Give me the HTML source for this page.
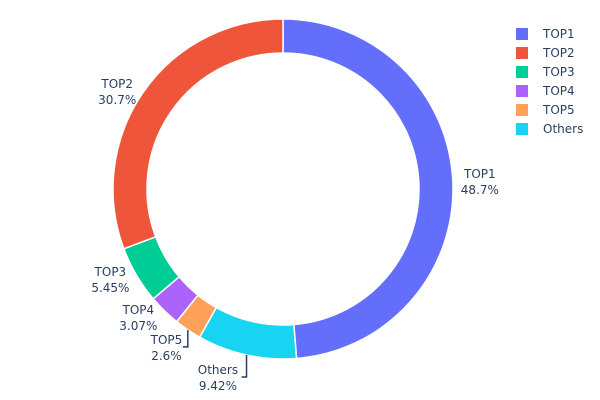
<!DOCTYPE html>
<html><head><meta charset="utf-8"><style>
body{margin:0;background:#fff}
svg{display:block;font-family:"DejaVu Sans","Liberation Sans",sans-serif}
</style></head><body>
<svg id="chart" width="600" height="400">
<g id="slices"></g>
<g id="labels"></g>
<g id="legend"></g>
</svg>
<script>
const labels = ["TOP1","TOP2","TOP3","TOP4","TOP5","Others"];
const values = [48.7,30.7,5.45,3.07,2.6,9.42];
const colors = ["#636efa","#EF553B","#00cc96","#ab63fa","#FFA15A","#19d3f3"];
const drawOrder = [0,5,4,3,2,1];
const cx=283, cy=189, R=170, r=136;
const NS="http://www.w3.org/2000/svg";
const total=values.reduce((a,b)=>a+b,0);
function pt(a,rad){const t=a*Math.PI/180;return [cx+rad*Math.sin(t), cy-rad*Math.cos(t)];}
const sg=document.getElementById('slices'), lg=document.getElementById('labels'), leg=document.getElementById('legend');
let ang=0;
drawOrder.forEach(i=>{
  const sweep=values[i]/total*360, a0=ang, a1=ang+sweep; ang=a1;
  const large=sweep>180?1:0;
  const [x0,y0]=pt(a0,R),[x1,y1]=pt(a1,R),[x2,y2]=pt(a1,r),[x3,y3]=pt(a0,r);
  const p=document.createElementNS(NS,'path');
  p.setAttribute('d',`M${x0},${y0}A${R},${R} 0 ${large} 1 ${x1},${y1}L${x2},${y2}A${r},${r} 0 ${large} 0 ${x3},${y3}Z`);
  p.setAttribute('fill',colors[i]);p.setAttribute('stroke','#fff');p.setAttribute('stroke-width','1.5');
  
  
  sg.appendChild(p);
  const mid=(a0+a1)/2; const [ox,oy]=pt(mid,R);
  const txt=labels[i];
  const pctStr=values[i]+'%';
  const hw=Math.max(txt.length,pctStr.length)*3.6;
  const c=Math.cos(mid*Math.PI/180);
  const right=Math.sin(mid*Math.PI/180)>0;
  let lx, ly;
  const small = values[i]/total<0.1 && c<-0.8;
  if(small){
    const ey=oy+(mid>200&&mid<220?17:22);
    const l=document.createElementNS(NS,'polyline');
    l.setAttribute('points',`${ox},${oy} ${ox},${ey} ${ox-5},${ey}`);
    l.setAttribute('fill','none');l.setAttribute('stroke','#2a3f5f');l.setAttribute('stroke-width','1.5');
    
    
    lg.appendChild(l);
    lx=ox-7-hw; ly=ey-3;
  } else {
    lx = right ? ox+9+hw : ox-8-hw;
    ly = oy-4+Math.max(0,-c)*10;
  }
  const t=document.createElementNS(NS,'text');
  t.setAttribute('text-anchor','middle');t.setAttribute('font-size','12');t.setAttribute('fill','#2a3f5f');
  
  
  const s1=document.createElementNS(NS,'tspan');s1.setAttribute('x',lx);s1.setAttribute('y',ly);s1.textContent=txt;
  const s2=document.createElementNS(NS,'tspan');s2.setAttribute('x',lx);s2.setAttribute('y',ly+16);s2.textContent=pctStr;
  t.appendChild(s1);t.appendChild(s2);lg.appendChild(t);
});
labels.forEach((lab,i)=>{
  const y=34+i*19;
  const g=document.createElementNS(NS,'g');
  
  
  const rc=document.createElementNS(NS,'rect');
  rc.setAttribute('x',516);rc.setAttribute('y',y-6);rc.setAttribute('width',12);rc.setAttribute('height',12);rc.setAttribute('fill',colors[i]);
  const t=document.createElementNS(NS,'text');
  t.setAttribute('x',543);t.setAttribute('y',y+4);t.setAttribute('font-size','12');t.setAttribute('fill','#2a3f5f');t.textContent=lab;
  g.appendChild(rc);g.appendChild(t);leg.appendChild(g);
});
</script>
</body></html>
